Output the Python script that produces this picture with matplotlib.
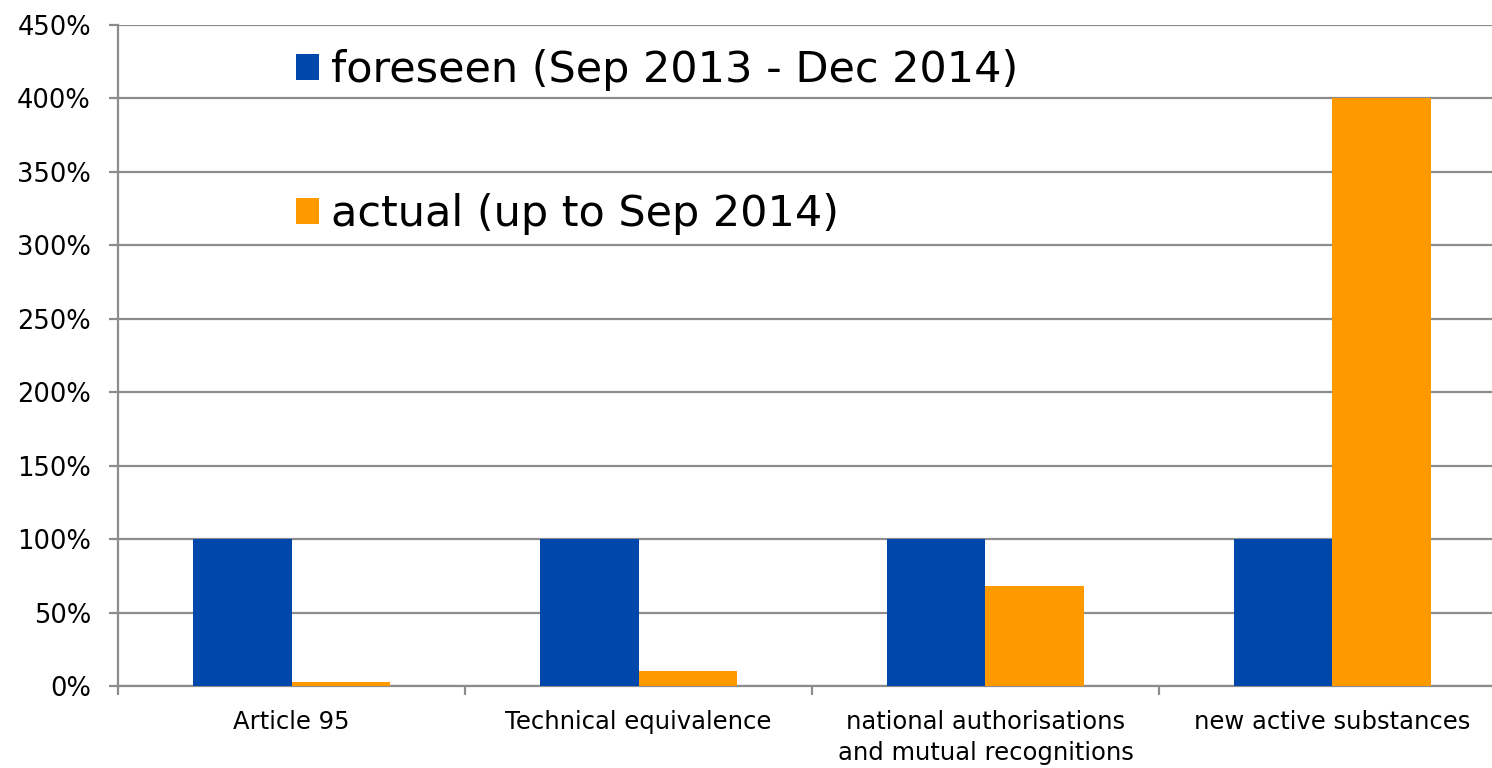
import matplotlib
matplotlib.use("Agg")
import matplotlib.pyplot as plt
import numpy as np
from matplotlib.ticker import FuncFormatter, FixedLocator

categories = ["Article 95", "Technical equivalence",
              "national authorisations\nand mutual recognitions", "new active substances"]
foreseen = [100, 100, 100, 100]
actual = [2.5, 10, 68, 400]
series_labels = ["foreseen (Sep 2013 - Dec 2014)", "actual (up to Sep 2014)"]
colors = ["#0047AB", "#FF9900"]

plt.rcParams['font.family'] = ['DejaVu Sans']
W, H = 1492, 768
fig = plt.figure(figsize=(W/100, H/100), dpi=100)
left, right, top, bottom = 118, 1506, 25, 686
ax = fig.add_axes([left/W, 1 - bottom/H, (right-left)/W, (bottom-top)/H])

x = np.arange(len(categories))
bw = 0.285
ax.bar(x - bw/2, foreseen, bw, color=colors[0], label=series_labels[0], zorder=3)
ax.bar(x + bw/2, actual, bw, color=colors[1], label=series_labels[1], zorder=3)

ax.set_xlim(-0.5, len(categories) - 0.5)
ax.set_ylim(0, 450)
ax.set_yticks(np.arange(0, 451, 50))
ax.yaxis.set_major_formatter(FuncFormatter(lambda v, p: f"{int(v)}%"))
ax.grid(axis='y', color='#8c8c8c', linewidth=1.6, zorder=0)

ax.set_xticks(x)
ax.set_xticklabels(categories, fontsize=17.5, linespacing=1.38)
ax.xaxis.set_minor_locator(FixedLocator(np.arange(-0.5, len(categories), 1)))
ax.tick_params(axis='x', which='major', length=0, pad=17)
ax.tick_params(axis='x', which='minor', length=6.5, width=1.6, color='#8c8c8c')
ax.tick_params(axis='y', length=6.5, width=1.6, color='#8c8c8c', labelsize=18.5, pad=13)

for s in ['top', 'right']:
    ax.spines[s].set_visible(False)
for s in ['left', 'bottom']:
    ax.spines[s].set_color('#8c8c8c')
    ax.spines[s].set_linewidth(1.6)

ax_w = right - left
ax_h = bottom - top
leg = ax.legend(loc='upper left',
                bbox_to_anchor=((279 - left)/ax_w, 1 - (32 - top)/ax_h),
                fontsize=31, frameon=False, labelspacing=2.37,
                handlelength=0.53, handleheight=0.53, handletextpad=0.28,
                borderaxespad=0, borderpad=0.4)

fig.savefig("out.png", dpi=100)
